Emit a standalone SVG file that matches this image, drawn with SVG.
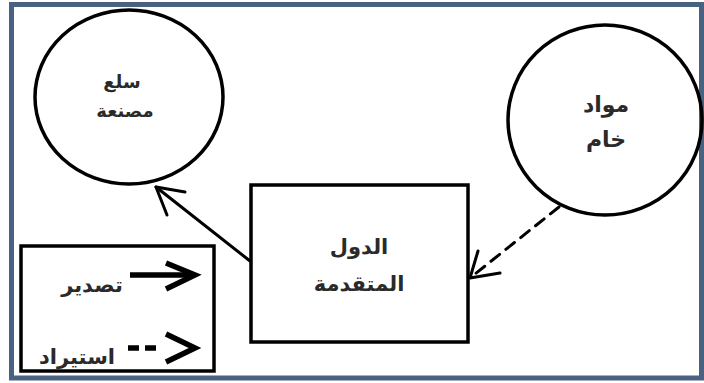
<svg xmlns="http://www.w3.org/2000/svg" width="704" height="383" viewBox="0 0 704 383">
<style>
.shape{fill:none;stroke:#000;stroke-width:3.5}
.lbl{font-family:"DejaVu Sans","Noto Sans",sans-serif;font-weight:bold;fill:#2a2a2a;text-anchor:middle}
.conn{fill:none;stroke:#000;stroke-width:3;stroke-linecap:round;stroke-linejoin:round}
.leg{fill:none;stroke:#000;stroke-width:5.5;stroke-linejoin:miter}
</style>
<rect x="0" y="0" width="704" height="383" fill="#fff"/>
<rect x="11.5" y="4.5" width="690" height="373.5" fill="none" stroke="#4a6282" stroke-width="5"/>
<g id="node-manufactured">
<ellipse class="shape" cx="129" cy="97" rx="94" ry="87"/>
<text class="lbl" x="122" y="88" font-size="18" direction="rtl">سلع</text>
<text class="lbl" x="125" y="117" font-size="18" direction="rtl">مصنعة</text>
</g>
<g id="node-raw">
<ellipse class="shape" cx="605" cy="120" rx="97" ry="95"/>
<text class="lbl" x="606" y="112" font-size="22" direction="rtl">مواد</text>
<text class="lbl" x="606" y="147" font-size="22" direction="rtl">خام</text>
</g>
<g id="node-developed">
<rect class="shape" x="251" y="185" width="217" height="157" stroke-width="4"/>
<text class="lbl" x="359" y="254" font-size="21" direction="rtl">الدول</text>
<text class="lbl" x="359" y="291" font-size="21" direction="rtl">المتقدمة</text>
</g>
<g id="connectors">
<path class="conn" d="M250 261 L156 187"/>
<path class="conn" d="M185 192 L156 187 L167 215"/>
<path class="conn" d="M559 207 L470 278" stroke-dasharray="11 8"/>
<path class="conn" d="M478 251 L470 278 L500 273"/>
</g>
<g id="legend">
<rect class="shape" x="21" y="246" width="193" height="125" stroke-width="4"/>
<path class="leg" d="M130 275 L195 275"/>
<path class="leg" d="M166 263 L195 275 L166 289"/>
<text class="lbl" x="92" y="292" font-size="21" fill="#111" direction="rtl">تصدير</text>
<path class="leg" d="M128 348 L160 348" stroke-dasharray="11 6"/>
<path class="leg" d="M166 334 L195 348 L166 362"/>
<text class="lbl" x="77" y="364" font-size="21" fill="#111" direction="rtl">استيراد</text>
</g>
</svg>
